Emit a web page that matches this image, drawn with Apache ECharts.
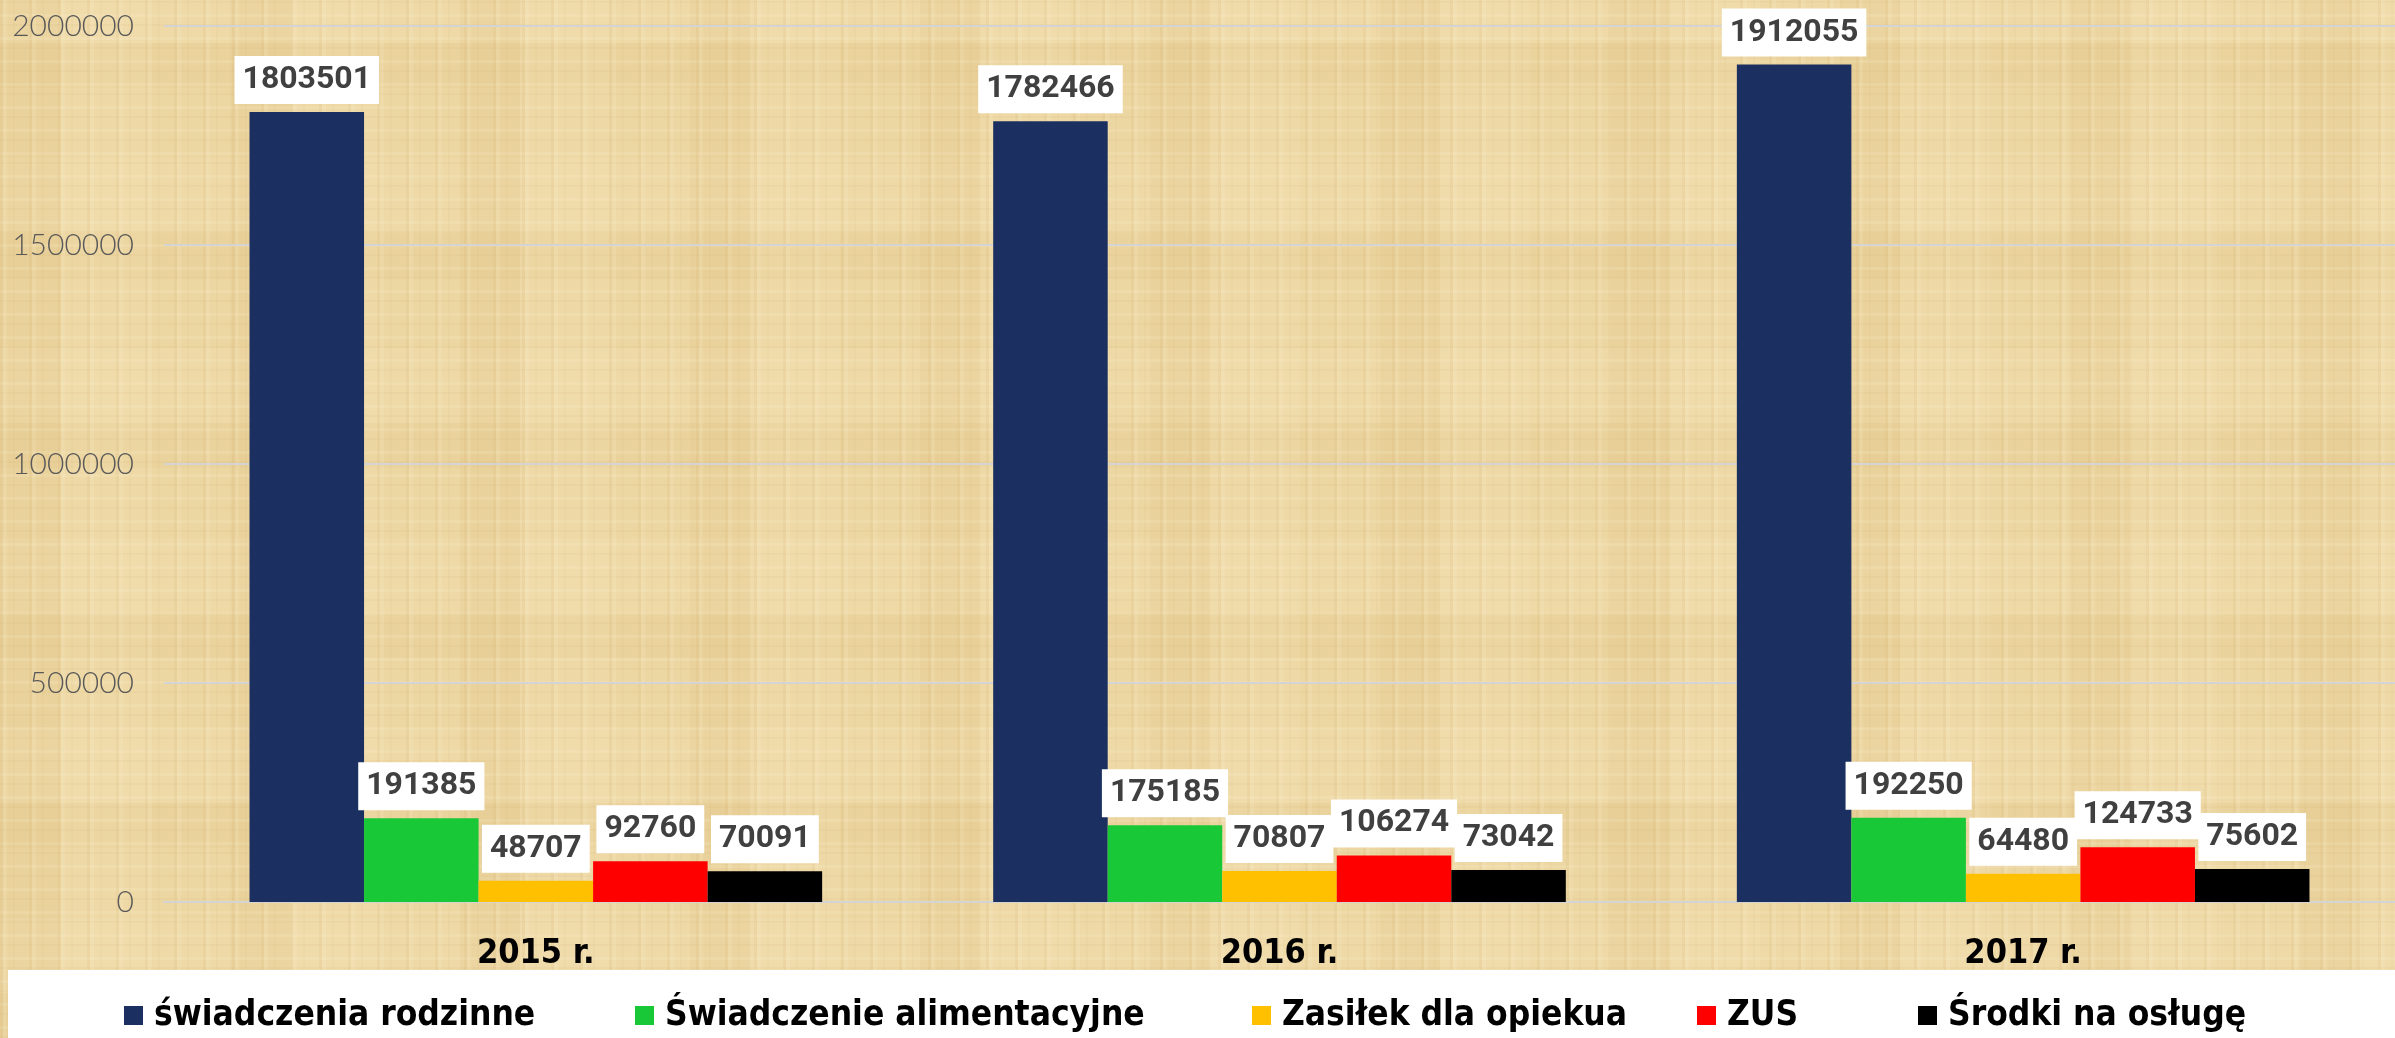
<!DOCTYPE html>
<html>
<head>
<meta charset="utf-8">
<script src="https://cdn.jsdelivr.net/npm/echarts@6/dist/echarts.min.js"></script>
<style>
  html, body { margin: 0; padding: 0; }
  /* papyrus-like backdrop */
  #chart {
    width: 2395px; height: 1038px;
    background-color: #ecd6a2;
    background-image:
      repeating-linear-gradient(90deg, rgba(200,160,90,0.10) 0 3px, rgba(255,245,215,0.14) 3px 7px, transparent 7px 13px, rgba(200,160,90,0.06) 13px 15px, transparent 15px 29px),
      repeating-linear-gradient(0deg, rgba(200,160,90,0.08) 0 2px, transparent 2px 9px, rgba(255,248,220,0.14) 9px 12px, transparent 12px 23px),
      repeating-linear-gradient(90deg, rgba(215,180,110,0.12) 0 60px, rgba(255,240,205,0.10) 60px 150px, transparent 150px 230px),
      repeating-linear-gradient(0deg, rgba(215,180,110,0.10) 0 45px, rgba(255,242,210,0.10) 45px 120px, transparent 120px 190px);
  }
</style>
</head>
<body>
<div id="chart"></div>
<script>
const categories = ['2015 r.', '2016 r.', '2017 r.']
const seriesNames = ['świadczenia rodzinne', 'Świadczenie alimentacyjne', 'Zasiłek dla opiekua', 'ZUS', 'Środki na osługę']
const swiadczeniaRodzinne = [1803501, 1782466, 1912055]
const alimentacyjne = [191385, 175185, 192250]
const zasilek = [48707, 70807, 64480]
const zus = [92760, 106274, 124733]
const srodki = [70091, 73042, 75602]
const yMin = 0, yMax = 2000000, yStep = 500000

const colors = ['#1b3060', '#18c837', '#ffc000', '#ff0000', '#000000']
const values = [swiadczeniaRodzinne, alimentacyjne, zasilek, zus, srodki]
const legendLeft = [124, 635, 1252, 1697, 1918]
const condensed = '"DejaVu Sans Condensed", "DejaVu Sans", sans-serif'

const chart = echarts.init(document.getElementById('chart'))

chart.setOption({
  backgroundColor: 'transparent',
  animation: false,
  graphic: [{
    type: 'rect', left: 8, top: 970, z: 0,
    shape: { width: 2387, height: 68 },
    style: { fill: '#ffffff' }
  }],
  grid: { left: 164, right: 0, top: 26, bottom: 136 },
  legend: seriesNames.map((name, i) => ({
    data: [name],
    left: legendLeft[i], top: 998, padding: 0,
    itemWidth: 19, itemHeight: 19,
    icon: 'rect',
    textStyle: { fontSize: 35, fontWeight: 'bold', color: '#000',
                 fontFamily: condensed, padding: [0, 0, 0, 6] }
  })),
  xAxis: {
    type: 'category',
    data: categories,
    axisTick: { show: false },
    axisLine: { lineStyle: { color: '#d4d4d4', width: 2 } },
    axisLabel: { fontSize: 34, fontWeight: 'bold', color: '#000', margin: 35,
                 fontFamily: condensed }
  },
  yAxis: {
    type: 'value',
    min: yMin, max: yMax, interval: yStep,
    axisLine: { show: false },
    axisTick: { show: false },
    splitLine: { lineStyle: { color: '#d4d4d4', width: 2 } },
    axisLabel: { fontSize: 30, color: '#595959', margin: 30, fontWeight: 300,
                 fontFamily: 'Lato, sans-serif', formatter: v => String(v) }
  },
  series: seriesNames.map((name, i) => ({
    name: name,
    type: 'bar',
    data: values[i],
    barGap: '0%',
    barCategoryGap: '23%',
    itemStyle: { color: colors[i] },
    label: {
      show: true, position: 'top', distance: 8,
      backgroundColor: '#fff', padding: [8, 8, 8, 8],
      fontSize: 32, lineHeight: 32, fontWeight: 'bold', color: '#404040',
      fontFamily: 'Roboto, sans-serif'
    }
  }))
})
</script>
</body>
</html>
